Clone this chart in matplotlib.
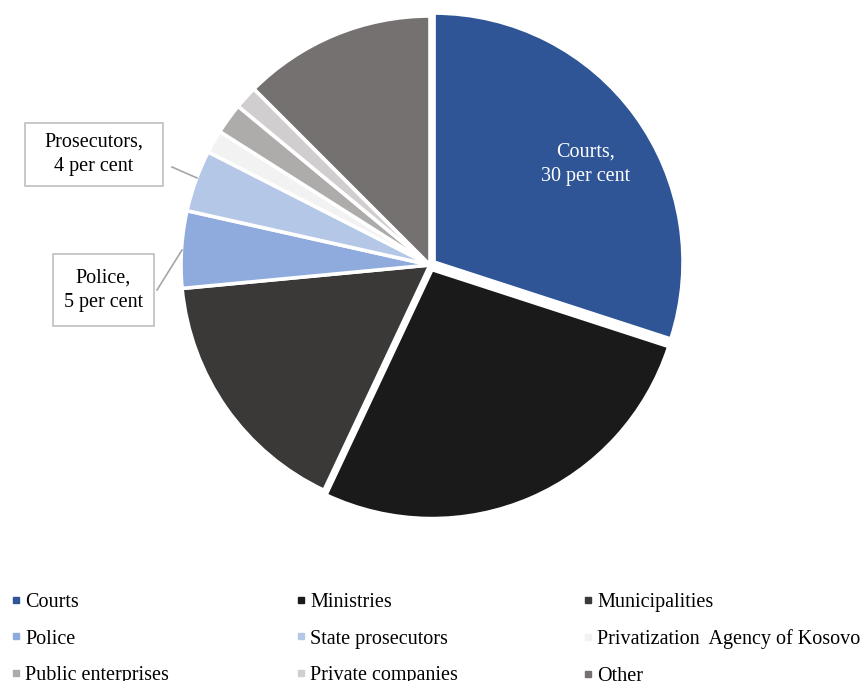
import numpy as np
import matplotlib.pyplot as plt
from matplotlib.lines import Line2D
from matplotlib.patches import Rectangle

plt.rcParams['font.family'] = ['Liberation Serif', 'DejaVu Serif']

# share of cases by institution (per cent)
institutions = ["Courts", "Ministries", "Municipalities", "Police", "State prosecutors",
                "Privatization  Agency of Kosovo", "Public enterprises", "Private companies", "Other"]
shares = [30, 27, 16.5, 5, 4, 1.5, 2, 1.5, 12.5]
colors = ["#2F5597", "#1A1A1A", "#3B3838", "#8FAADC", "#B4C7E7",
          "#F2F2F2", "#AEABAB", "#D0CECE", "#767171"]
explode = [0.02, 0.02, 0, 0, 0, 0, 0, 0, 0]

W, H = 868, 681
fig = plt.figure(figsize=(W / 100, H / 100), dpi=100)
FS = 14.5

def fx(x):
    return x / W

def fy(y):
    return 1 - y / H

# pie axes, square box in pixels
ax = fig.add_axes([fx(180), fy(515), 500 / W, 500 / H])
wedges, _ = ax.pie(shares, colors=colors, startangle=90, counterclock=False,
                   explode=explode, radius=0.996,
                   wedgeprops=dict(edgecolor="white", linewidth=2.6))
ax.set_xlim(-1, 1)
ax.set_ylim(-1, 1)
ax.axis("off")

# label inside the courts slice
w = wedges[0]
mid = np.deg2rad((w.theta1 + w.theta2) / 2 - 3)
ax.text(0.74 * np.cos(mid), 0.74 * np.sin(mid), f"Courts,\n{shares[0]} per cent",
        color="white", ha="center", va="center", fontsize=FS, linespacing=1.35)

# callout boxes for the small slices
def callout(text, x0, y0, x1, y1, line):
    fig.add_artist(Rectangle((fx(x0), fy(y1)), (x1 - x0) / W, (y1 - y0) / H,
                             transform=fig.transFigure, facecolor="white",
                             edgecolor="#BFBFBF", linewidth=1.2))
    fig.text(fx((x0 + x1) / 2), fy((y0 + y1) / 2), text, ha="center", va="center",
             fontsize=FS, linespacing=1.4)
    (ax_, ay_), (bx_, by_) = line
    fig.add_artist(Line2D([fx(ax_), fx(bx_)], [fy(ay_), fy(by_)],
                          transform=fig.transFigure, color="#A6A6A6", linewidth=1.2))

callout(f"Prosecutors,\n{shares[4]} per cent", 25, 123, 163, 186, ((172, 167), (197, 178)))
callout(f"Police,\n{shares[3]} per cent", 53, 254, 154, 326, ((157, 290), (182, 250)))

# legend in three columns
cols_x = [12, 297, 584]
for c, x in enumerate(cols_x):
    idx = [c, c + 3, c + 6]
    handles = [Line2D([], [], marker="s", linestyle="none", markersize=5,
                      markerfacecolor=colors[i], markeredgecolor=colors[i]) for i in idx]
    fig.legend(handles, [institutions[i] for i in idx], loc="upper left",
               bbox_to_anchor=(fx(x), fy(593)), frameon=False, fontsize=FS,
               handlelength=0.4, handletextpad=0.25, labelspacing=0.86,
               borderpad=0, borderaxespad=0)

fig.savefig("out.png", dpi=100)
